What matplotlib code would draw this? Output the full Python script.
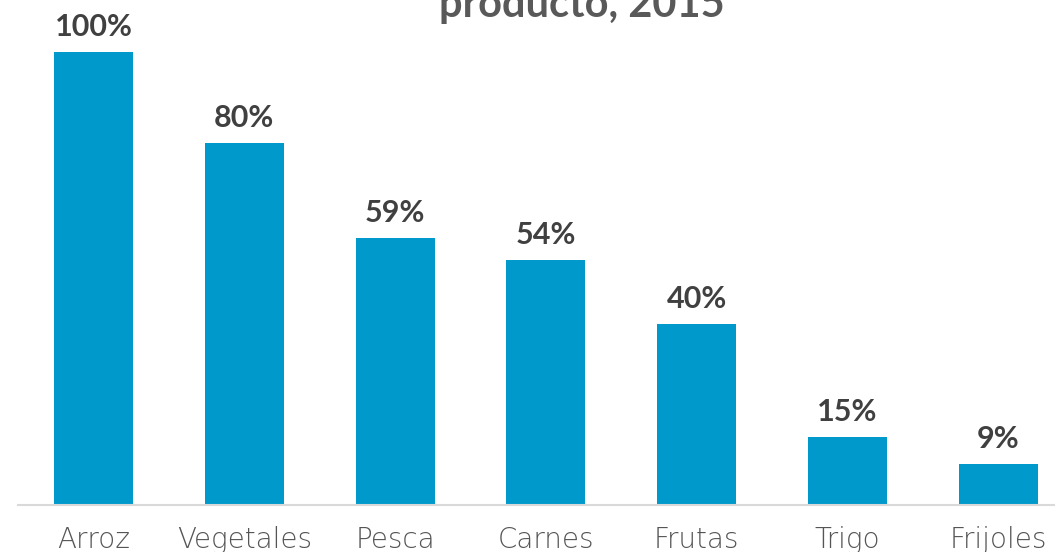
import matplotlib.pyplot as plt
import numpy as np

productos = ["Arroz", "Vegetales", "Pesca", "Carnes", "Frutas", "Trigo", "Frijoles"]
participacion = [100, 80, 59, 54, 40, 15, 9]

plt.rcParams["font.family"] = ["Lato", "DejaVu Sans"]

fig = plt.figure(figsize=(10.55, 5.52), dpi=100)
ax = fig.add_axes([18 / 1055, 47 / 552, 1 - 18 / 1055, 1 - 47 / 552])

x = np.arange(len(productos))
bars = ax.bar(x, participacion, width=0.524, color="#0099CC")

# etiquetas de porcentaje sobre cada barra
for rect, val in zip(bars, participacion):
    ax.annotate(f"{val}%", (rect.get_x() + rect.get_width() / 2, rect.get_height()),
                xytext=(0, 11.5), textcoords="offset points", ha="center", va="baseline",
                fontsize=22, fontweight="bold", color="#404040")

ax.set_xlim(-0.5, 6.376)
ax.set_ylim(0, 505 / 4.53)
ax.set_xticks(x)
ax.set_xticklabels(productos, fontsize=20, fontweight="light", color="#555555",
                   family="DejaVu Sans")
ax.tick_params(axis="x", length=0, pad=15)
ax.set_yticks([])
for side in ["top", "right", "left"]:
    ax.spines[side].set_visible(False)
ax.spines["bottom"].set_color("#D9D9D9")
ax.spines["bottom"].set_linewidth(1.5)

fig.text(582 / 1055, 1 - 17 / 552, "producto, 2015", ha="center", va="baseline",
         fontsize=30, fontweight="bold", color="#595959")

fig.savefig("out.png", dpi=100)
